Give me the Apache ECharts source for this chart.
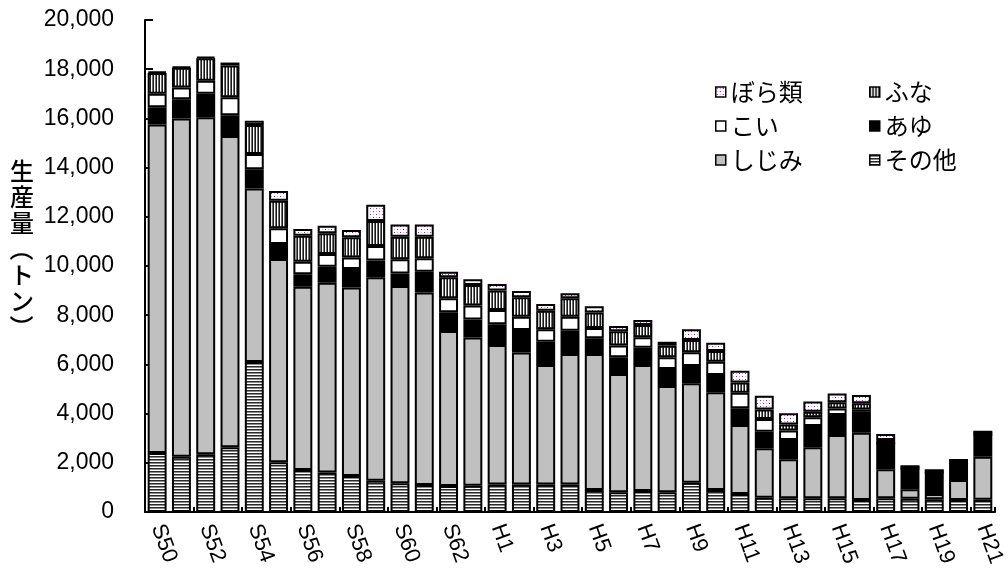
<!DOCTYPE html>
<html>
<head>
<meta charset="utf-8">
<script src="https://cdn.jsdelivr.net/npm/echarts@6/dist/echarts.min.js"></script>
<style>
  html, body { margin: 0; padding: 0; background: #fff; }
  #chart { width: 1008px; height: 577px; }
</style>
</head>
<body>
<div id="chart"></div>
<script>
// 年次（昭和50年〜平成21年）
const years = ['S50','S51','S52','S53','S54','S55','S56','S57','S58','S59','S60','S61','S62','S63',
  'H1','H2','H3','H4','H5','H6','H7','H8','H9','H10','H11','H12','H13','H14','H15','H16','H17','H18','H19','H20','H21'];

// 魚種別生産量（トン）
const sonota  = [2400,2250,2350,2630,6100,2020,1710,1610,1460,1270,1170,1100,1060,1070,
  1120,1120,1120,1120,890,800,850,800,1190,890,730,580,560,560,560,490,560,540,520,490,500];
const shijimi = [13350,13750,13700,12650,7050,8260,7450,7710,7670,8270,8020,7820,6300,6020,
  5670,5360,4860,5300,5530,4810,5130,4320,4040,3980,2810,2010,1580,2070,2570,2730,1180,380,210,810,1750];
const ayu     = [700,780,950,850,780,610,500,650,750,680,510,850,760,740,
  840,920,940,950,640,680,700,690,700,700,680,670,790,870,810,850,1050,850,880,700,900];
const koi     = [550,480,530,730,620,640,510,520,470,590,570,540,570,560,
  580,540,510,570,420,480,420,480,560,540,630,520,380,350,270,100,0,0,0,0,0];
const funa    = [850,800,920,1290,1180,1120,1060,840,820,1020,920,880,850,840,
  790,790,750,750,630,580,500,470,500,430,410,390,250,230,250,250,140,90,90,110,110];
const bora    = [50,40,50,120,170,400,270,310,290,660,500,500,230,230,
  270,250,280,200,250,210,200,160,440,340,480,560,450,410,360,340,240,0,0,0,0];

// 縦書きの軸タイトル（括弧は横向きに回転）
const yTitleChars = ['生', '産', '量', '（', 'ト', 'ン', '）'];

// 網掛け模様
function makePattern(w, h, draw) {
  const c = document.createElement('canvas');
  c.width = w; c.height = h;
  const ctx = c.getContext('2d');
  ctx.fillStyle = '#ffffff';
  ctx.fillRect(0, 0, w, h);
  draw(ctx);
  return { image: c, repeat: 'repeat' };
}
const hStripe = makePattern(4, 3, ctx => {
  ctx.fillStyle = '#2a2a2a'; ctx.fillRect(0, 0, 4, 1);
  ctx.fillStyle = '#8c8c8c'; ctx.fillRect(0, 1, 4, 1);
});
const vStripe = makePattern(3, 4, ctx => {
  ctx.fillStyle = '#1a1a1a'; ctx.fillRect(0, 0, 1, 4);
  ctx.fillStyle = '#707070'; ctx.fillRect(2, 0, 1, 4);
});
const dots = makePattern(6, 6, ctx => {
  ctx.fillStyle = '#a81aa8';
  ctx.fillRect(1, 1, 1, 1);
  ctx.fillRect(4, 4, 1, 1);
  ctx.fillStyle = '#d9a6d9';
  ctx.fillRect(4, 1, 1, 1);
  ctx.fillRect(1, 4, 1, 1);
});

const seriesDefs = [
  { name: 'その他', data: sonota,  color: hStripe },
  { name: 'しじみ', data: shijimi, color: '#c0c0c0' },
  { name: 'あゆ',   data: ayu,     color: '#000000' },
  { name: 'こい',   data: koi,     color: '#ffffff' },
  { name: 'ふな',   data: funa,    color: vStripe },
  { name: 'ぼら類', data: bora,    color: dots }
];

const chart = echarts.init(document.getElementById('chart'), null, { renderer: 'canvas' });

const legendText = { fontSize: 24, color: '#000', fontFamily: '"Noto Sans CJK JP", sans-serif', lineHeight: 26 };
const numFont = '"Liberation Sans", Arial, sans-serif';

// 軸タイトルの各文字を縦に並べる
const titleStep = 26;
const titleTop = 171;
const yTitle = yTitleChars.map((ch, i) => {
  const isParen = ch === '（' || ch === '）';
  return {
    type: 'text',
    x: 22,
    y: titleTop + i * titleStep,
    rotation: isParen ? -Math.PI / 2 : 0,
    style: {
      text: ch,
      x: 0, y: 0,
      align: 'center',
      verticalAlign: 'middle',
      fill: '#000',
      font: '500 24px "Noto Sans CJK JP", sans-serif'
    }
  };
});

chart.setOption({
  animation: false,
  backgroundColor: '#ffffff',
  grid: { left: 145, right: 13, top: 20, bottom: 65, containLabel: false },
  legend: [
    {
      data: ['ぼら類', 'こい', 'しじみ'],
      orient: 'vertical', left: 710, top: 74, itemGap: 8,
      itemWidth: 10, itemHeight: 10, icon: 'rect',
      itemStyle: { borderColor: '#000', borderWidth: 1.5 },
      textStyle: legendText
    },
    {
      data: ['ふな', 'あゆ', 'その他'],
      orient: 'vertical', left: 864, top: 74, itemGap: 8,
      itemWidth: 10, itemHeight: 10, icon: 'rect',
      itemStyle: { borderColor: '#000', borderWidth: 1.5 },
      textStyle: legendText
    }
  ],
  xAxis: {
    type: 'category',
    data: years,
    boundaryGap: true,
    axisLine: { lineStyle: { color: '#000', width: 2 } },
    axisTick: { show: true, inside: true, length: 5, lineStyle: { color: '#000', width: 2 } },
    axisLabel: {
      interval: 1,
      rotate: -70,
      margin: 13,
      fontSize: 22,
      color: '#000',
      fontFamily: numFont
    }
  },
  yAxis: {
    type: 'value',
    min: 0, max: 20000, interval: 2000,
    axisLine: { show: true, lineStyle: { color: '#000', width: 2 } },
    axisTick: { show: true, inside: true, length: 8, lineStyle: { color: '#000', width: 2 } },
    splitLine: { show: false },
    axisLabel: {
      margin: 31,
      fontSize: 23,
      color: '#000',
      fontFamily: numFont,
      formatter: v => v.toString().replace(/\B(?=(\d{3})+(?!\d))/g, ',')
    }
  },
  graphic: yTitle,
  series: seriesDefs.map(s => ({
    name: s.name,
    type: 'bar',
    stack: 'total',
    data: s.data,
    barCategoryGap: '22%',
    itemStyle: { color: s.color, borderColor: '#000', borderWidth: 2 },
    emphasis: { disabled: true }
  }))
});
</script>
</body>
</html>
